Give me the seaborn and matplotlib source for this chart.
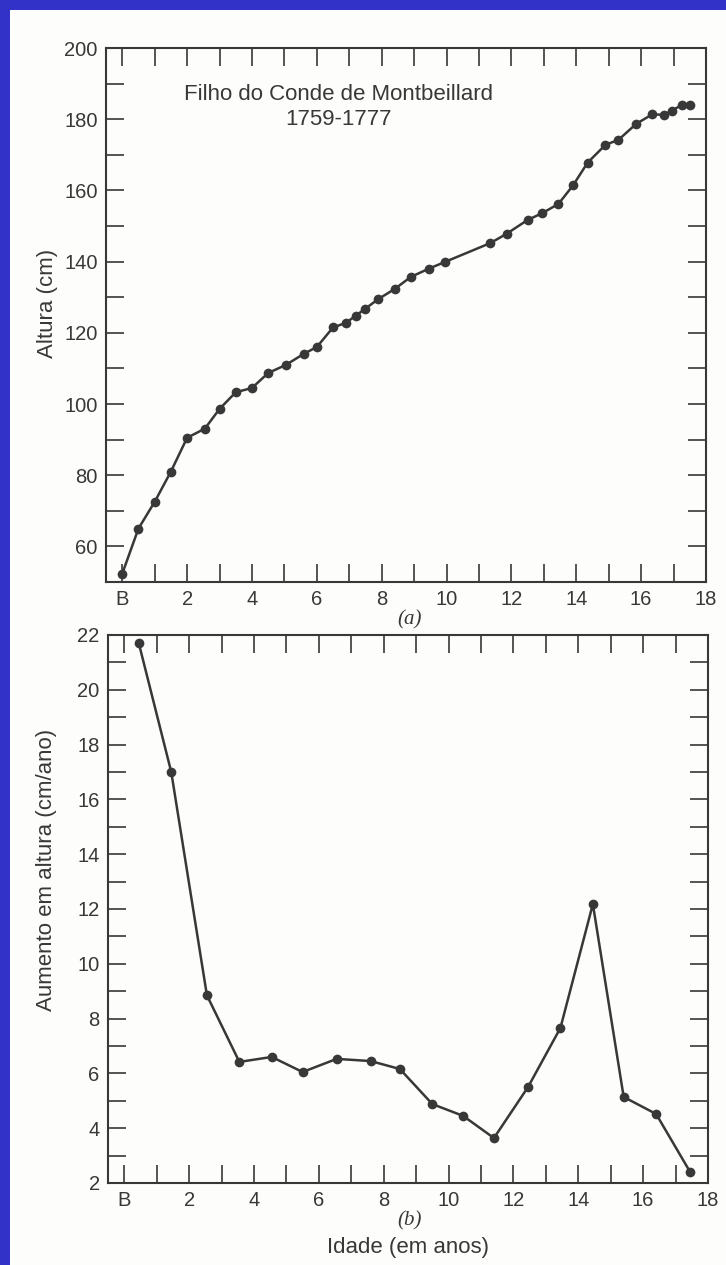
import matplotlib
matplotlib.use("Agg")
import matplotlib.pyplot as plt
import seaborn as sns
import pandas as pd
from matplotlib.patches import Rectangle

# ---------------- data ----------------
age_a = [0.0, 0.5, 1.0, 1.5, 2.0, 2.55, 3.0, 3.5, 4.0, 4.5, 5.05, 5.6, 6.0, 6.5,
         6.9, 7.2, 7.5, 7.9, 8.4, 8.9, 9.45, 9.95, 11.35, 11.85, 12.5, 12.95,
         13.45, 13.9, 14.35, 14.9, 15.3, 15.85, 16.35, 16.7, 16.95, 17.25, 17.5]
height_a = [52.3, 65.0, 72.5, 81.0, 90.5, 93.1, 98.6, 103.3, 104.5, 108.7, 111.0,
            114.1, 116.0, 121.5, 122.8, 124.8, 126.8, 129.5, 132.3, 135.7, 138.0,
            139.9, 145.2, 147.8, 151.7, 153.6, 156.2, 161.4, 167.8, 172.8, 174.2,
            178.7, 181.4, 181.2, 182.4, 184.0, 184.0]

age_b = [0.45, 1.45, 2.55, 3.55, 4.55, 5.5, 6.55, 7.6, 8.5, 9.5, 10.45, 11.4,
         12.45, 13.45, 14.45, 15.4, 16.4, 17.45]
rate_b = [21.7, 17.0, 8.85, 6.42, 6.6, 6.05, 6.53, 6.45, 6.16, 4.88, 4.45, 3.64,
          5.5, 7.66, 12.18, 5.14, 4.52, 2.4]

x_tick_pos = [0, 2, 4, 6, 8, 10, 12, 14, 16, 18]
x_tick_labels = ["B", "2", "4", "6", "8", "10", "12", "14", "16", "18"]
y_ticks_a = [60, 80, 100, 120, 140, 160, 180, 200]
y_ticks_b = [2, 4, 6, 8, 10, 12, 14, 16, 18, 20, 22]

title_line1 = "Filho do Conde de Montbeillard"
title_line2 = "1759-1777"
ylabel_a = "Altura (cm)"
ylabel_b = "Aumento em altura (cm/ano)"
xlabel_b = "Idade (em anos)"

# ---------------- style ----------------
sns.set_theme(style="ticks")
plt.rcParams["font.family"] = ["Liberation Sans", "DejaVu Sans"]

INK = "#383838"
BG = "#fdfdfb"
BLUE = "#3232c8"

W, H = 726, 1265
fig = plt.figure(figsize=(W / 100, H / 100), dpi=100)
fig.patch.set_facecolor(BLUE)
fig.add_artist(Rectangle((10 / W, 0), 1 - 10 / W, 1 - 10 / H,
                         transform=fig.transFigure, facecolor=BG,
                         edgecolor="none", zorder=-10))

ax_a = fig.add_axes([106 / W, 1 - 582 / H, 600 / W, (582 - 48) / H])
ax_b = fig.add_axes([108 / W, 1 - 1183 / H, 600 / W, (1183 - 635) / H])

df_a = pd.DataFrame({"idade": age_a, "altura": height_a})
df_b = pd.DataFrame({"idade": age_b, "taxa": rate_b})

line_kw = dict(color=INK, marker="o", markersize=7, markeredgewidth=0,
               linewidth=1.8)
sns.lineplot(data=df_a, x="idade", y="altura", ax=ax_a, **line_kw)
sns.lineplot(data=df_b, x="idade", y="taxa", ax=ax_b, **line_kw)

for ax in (ax_a, ax_b):
    ax.set_facecolor("none")
    ax.set_xlim(-0.5, 18)
    ax.set_xticks(x_tick_pos)
    ax.set_xticklabels(x_tick_labels)
    ax.set_xticks([v for v in range(0, 18) if v % 2 == 1], minor=True)
    ax.set_xlabel("")
    ax.set_ylabel("")
    for s in ax.spines.values():
        s.set_visible(True)
        s.set_color(INK)
        s.set_linewidth(1.5)
    ax.tick_params(which="both", direction="in", length=13, width=1.2,
                   color=INK, top=True, right=True, labelcolor=INK,
                   labelsize=14.5)
    ax.tick_params(axis="x", which="both", pad=6)
    ax.tick_params(axis="y", which="both", pad=6)

ax_a.set_ylim(50, 200)
ax_a.set_yticks(y_ticks_a)
ax_a.set_yticks([70, 90, 110, 130, 150, 170, 190], minor=True)

ax_b.set_ylim(2, 22)
ax_b.set_yticks(y_ticks_b)
ax_b.set_yticks([v for v in range(3, 22, 2)], minor=True)

# annotations
ax_a.text(6.67, 186.8, title_line1, ha="center", va="center", fontsize=16,
          color=INK)
ax_a.text(6.67, 179.8, title_line2, ha="center", va="center", fontsize=16,
          color=INK)

fig.text(410 / W, 1 - 620 / H, "(a)", ha="center", va="center", fontsize=15,
         style="italic", family=["Liberation Serif", "DejaVu Serif"], color=INK)
fig.text(410 / W, 1 - 1221 / H, "(b)", ha="center", va="center", fontsize=15,
         style="italic", family=["Liberation Serif", "DejaVu Serif"], color=INK)
fig.text(408 / W, 1 - 1247 / H, xlabel_b, ha="center", va="center",
         fontsize=16, color=INK)
fig.text(47 / W, 1 - 303 / H, ylabel_a, ha="center", va="center",
         rotation=90, fontsize=16, color=INK)
fig.text(47 / W, 1 - 870 / H, ylabel_b, ha="center", va="center",
         rotation=90, fontsize=16, color=INK)

fig.savefig("out.png", dpi=100, facecolor=fig.get_facecolor())
